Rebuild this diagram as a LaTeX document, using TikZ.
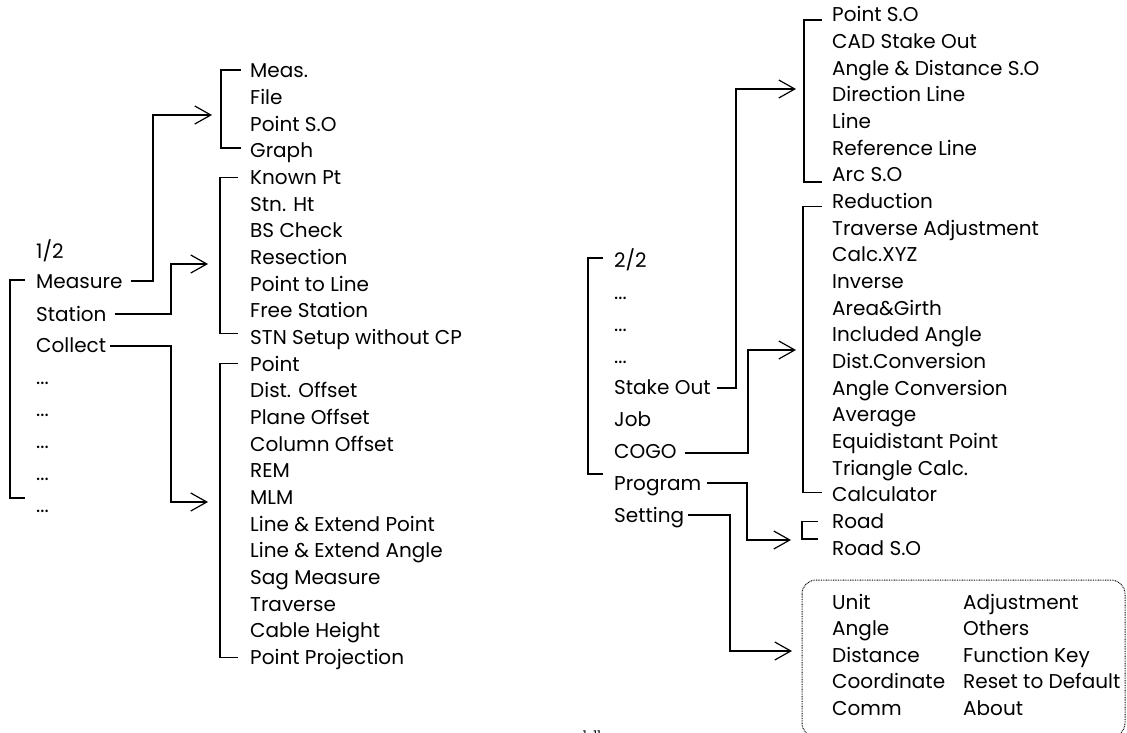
\documentclass[tikz,border=0pt]{standalone}
\usepackage{fontspec}
\setmainfont{Poppins}
\usetikzlibrary{arrows.meta}
\begin{document}
\begin{tikzpicture}[x=1pt,y=-1pt,
  it/.style={anchor=west,inner sep=0pt,text height=16pt,text depth=2pt,font=\fontsize{20pt}{22pt}\selectfont},
  ln/.style={line width=1.2pt,line cap=butt,line join=miter},
  arr/.style={ln,-{Straight Barb[length=16pt,width=18pt,line width=1.2pt]}},
  dotbox/.style={line width=1pt,dash pattern=on 0.8pt off 0.9pt,rounded corners=14pt}]
\useasboundingbox (0,0) rectangle (1127,733);
% left column
\node[it] (half) at (36,251) {1/2};
\node[it] (measure) at (36,281) {Measure};
\node[it] (station) at (36,314) {Station};
\node[it] (collect) at (36,345) {Collect};
\foreach \i/\y in {1/377,2/409,3/441,4/473,5/505}
  \node[it] (ld\i) at (36,\y) {...};
% middle column
\foreach \n/\t [count=\k from 0] in {meas/Meas.,file/File,pso/Point S.O,graph/Graph,
  known/Known Pt,stnht/Stn. Ht,bs/BS Check,resec/Resection,ptl/Point to Line,free/Free Station,stn/STN Setup without CP,
  point/Point,dist/Dist. Offset,plane/Plane Offset,column/Column Offset,rem/REM,mlm/MLM,lep/Line \& Extend Point,lea/Line \& Extend Angle,sag/Sag Measure,trav/Traverse,cable/Cable Height,proj/Point Projection}
  \node[it] (\n) at (250,71+\k*26.65) {\t};
% right column
\node[it] (r0) at (614,260) {2/2};
\node[it] (r1) at (614,292) {...};
\node[it] (r2) at (614,324) {...};
\node[it] (r3) at (614,356) {...};
\node[it] (stake) at (614,387) {Stake Out};
\node[it] (job) at (614,419) {Job};
\node[it] (cogo) at (614,451) {COGO};
\node[it] (prog) at (614,483) {Program};
\node[it] (sett) at (614,515) {Setting};
% far right column
\foreach \n/\t [count=\k from 0] in {sPoint/Point S.O,sCad/CAD Stake Out,sAng/Angle \& Distance S.O,sDir/Direction Line,sLine/Line,sRef/Reference Line,sArc/Arc S.O,
  cRed/Reduction,cTrav/Traverse Adjustment,cXYZ/Calc.XYZ,cInv/Inverse,cArea/Area\&Girth,cInc/Included Angle,cDist/Dist.Conversion,cAng/Angle Conversion,cAvg/Average,cEqu/Equidistant Point,cTri/Triangle Calc.,cCalc/Calculator,
  pRoad/Road,pRoadSO/Road S.O}
  \node[it] (\n) at (832,15+\k*26.65) {\t};
% settings box
\draw[dotbox] (802,580) rectangle (1125,737);
\foreach \n/\t [count=\k from 0] in {unit/Unit,angle/Angle,distance/Distance,coord/Coordinate,comm/Comm}
  \node[it] (\n) at (832,602+\k*26.6) {\t};
\foreach \n/\t [count=\k from 0] in {adj/Adjustment,others/Others,fkey/Function Key,reset/Reset to Default,about/About}
  \node[it] (\n) at (963,602+\k*26.6) {\t};
\node[anchor=north,inner sep=0pt,font=\fontsize{12pt}{13pt}\selectfont] (pg) at (592,730.5) {1-11};
% arrow tips and elbows
\coordinate (t1) at (212,115); \coordinate (e1) at (153,115);
\coordinate (t2) at (208,264); \coordinate (e2) at (171,264);
\coordinate (t3) at (208,502); \coordinate (e3) at (171,502);
\coordinate (t4) at (796,89);  \coordinate (e4) at (736,89);
\coordinate (t5) at (796,350); \coordinate (e5) at (748,350);
\coordinate (t6) at (791,540); \coordinate (e6) at (747,540);
\coordinate (t7) at (792,651); \coordinate (e7) at (730,651);
\draw[arr] ([xshift=8pt]measure.east) -| (e1) -- (t1);
\draw[arr] ([xshift=8pt]station.east) -| (e2) -- (t2);
\draw[arr] ([xshift=4pt,yshift=-1pt]collect.east) -| (e3) -- (t3);
\draw[arr] ([xshift=6pt,yshift=-1pt]stake.east) -| (e4) -- (t4);
\draw[arr] ([xshift=8pt,yshift=-2pt]cogo.east) -| (e5) -- (t5);
\draw[arr] ([xshift=6pt]prog.east) -| (e6) -- (t6);
\draw[arr] ([xshift=4pt]sett.east) -| (e7) -- (t7);
% brackets
\draw[ln] ([xshift=-11pt,yshift=1pt]measure.west) -- ++(-15pt,0) |- ([xshift=-11pt,yshift=7pt]ld5.west);
\draw[ln] ([xshift=-9pt,yshift=1pt]meas.west) -- ++(-20pt,0) |- ([xshift=-9pt,yshift=3pt]graph.west);
\draw[ln] ([xshift=-12pt]known.west) -- ++(-18pt,0) |- ([xshift=-12pt,yshift=4pt]stn.west);
\draw[ln] ([xshift=-12pt,yshift=1pt]point.west) -- ++(-18pt,0) |- ([xshift=-12pt]proj.west);
\draw[ln] ([xshift=-11pt,yshift=2pt]r0.west) -- ++(-15pt,0) |- ([xshift=-11pt,yshift=9pt]prog.west);
\draw[ln] ([xshift=-10pt,yshift=-5pt]sPoint.west) -- ++(-18pt,0) |- ([xshift=-10pt,yshift=-7pt]sArc.west);
\draw[ln] ([xshift=-10pt,yshift=-5pt]cRed.west) -- ++(-19pt,0) |- ([xshift=-10pt,yshift=2pt]cCalc.west);
\draw[ln] ([xshift=-14pt,yshift=0pt]pRoad.west) -- ++(-16pt,0) |- ([xshift=-14pt,yshift=9pt]pRoadSO.west);
\end{tikzpicture}
\end{document}
